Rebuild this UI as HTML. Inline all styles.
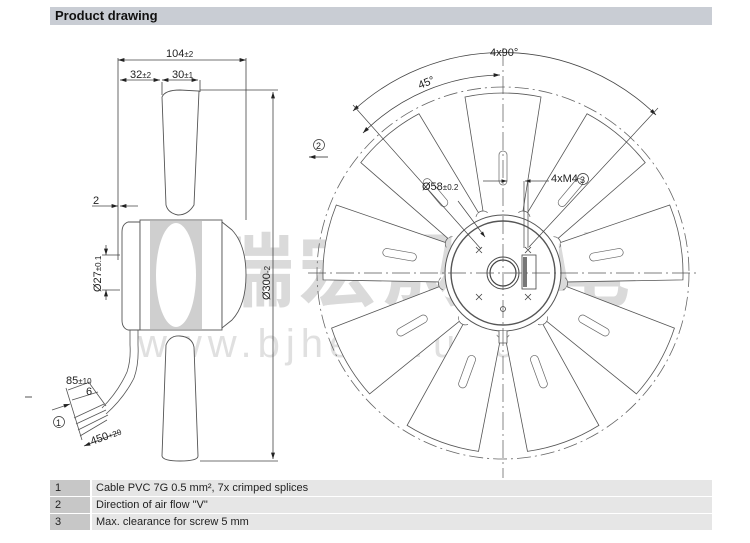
<!DOCTYPE html>
<html><head><meta charset="utf-8"><style>
html,body{margin:0;padding:0;background:#fff;}
body{width:750px;height:543px;overflow:hidden;position:relative;font-family:"Liberation Sans",Arial,sans-serif;}
.hdr{position:absolute;left:50px;top:7px;width:662px;height:18px;background:#c9cdd4;font-weight:bold;font-size:13px;line-height:18px;padding-left:5px;box-sizing:border-box;color:#111;}
.row{position:absolute;left:50px;width:662px;height:16px;font-size:11px;line-height:16px;color:#222;}
.row .a{position:absolute;left:0;top:0;width:40px;height:16px;background:#c7c7c7;padding-left:5px;box-sizing:border-box;}
.row .b{position:absolute;left:42px;top:0;right:0;height:16px;background:#e6e6e6;padding-left:4px;}
svg{position:absolute;left:0;top:0;}
</style></head><body>
<div class="hdr">Product drawing</div>
<svg width="750" height="543" viewBox="0 0 750 543" font-family="Liberation Sans, Arial, sans-serif">
<defs>
<marker id="ar" markerWidth="8" markerHeight="6" refX="8" refY="3" orient="auto-start-reverse"><path d="M0,0.5 L8,3 L0,5.5z" fill="#222"/></marker>
<g id="blade"><path d="M-20,-62 L-38,-176 Q0,-184 38,-176 L20,-62" fill="#fff" stroke="#555" stroke-width="0.8"/><path d="M-4,-118 L-4,-92 A4,4 0 0 0 4,-92 L4,-118 A4,4 0 0 0 -4,-118z" fill="none" stroke="#666" stroke-width="0.7"/><path d="M-20,-62 A7,7 0 0 0 -27,-56 M20,-62 A7,7 0 0 1 27,-56" fill="none" stroke="#666" stroke-width="0.7"/></g>
</defs>
<!-- watermark -->
<text x="130" y="300" font-size="80" fill="#dadada" font-family="Noto Sans CJK SC, sans-serif" font-weight="bold" letter-spacing="4">恒瑞宏晟机电</text>
<text x="138" y="357" font-size="40" fill="#e0e0e0" letter-spacing="6">www.bjhengrui.cn</text>

<!-- FRONT VIEW -->
<g transform="translate(503,273)">
<circle r="186" fill="none" stroke="#666" stroke-width="0.8" stroke-dasharray="14,4,2,4"/>
<g><use href="#blade" transform="rotate(0)"/><use href="#blade" transform="rotate(40)"/><use href="#blade" transform="rotate(80)"/><use href="#blade" transform="rotate(120)"/><use href="#blade" transform="rotate(160)"/><use href="#blade" transform="rotate(200)"/><use href="#blade" transform="rotate(240)"/><use href="#blade" transform="rotate(280)"/><use href="#blade" transform="rotate(320)"/></g>
<circle r="58" fill="#fff" stroke="#555" stroke-width="1"/>
<circle r="52" fill="none" stroke="#555" stroke-width="1.4"/>
<circle r="16" fill="none" stroke="#444" stroke-width="1"/>
<circle r="13" fill="none" stroke="#444" stroke-width="1.2"/>
<rect x="19" y="-18" width="14" height="34" fill="#fff" stroke="#444" stroke-width="0.8"/>
<rect x="20" y="-16" width="4" height="30" fill="#777"/>
<g stroke="#444" stroke-width="0.8"><path d="M-27,-26 l6,6 m0,-6 l-6,6 M22,-26 l6,6 m0,-6 l-6,6 M-27,21 l6,6 m0,-6 l-6,6 M22,21 l6,6 m0,-6 l-6,6"/></g>
<circle cx="0" cy="36" r="2.5" fill="none" stroke="#444" stroke-width="0.8"/>
<path d="M-4,58 L-4,70 L4,70 L4,58" fill="#fff" stroke="#555" stroke-width="0.8"/>
<line x1="0" y1="-225" x2="0" y2="205" stroke="#555" stroke-width="0.7" stroke-dasharray="18,4,2,4"/>
<line x1="-195" y1="0" x2="195" y2="0" stroke="#555" stroke-width="0.7" stroke-dasharray="18,4,2,4"/>
<!-- dim arcs -->
<path d="M-150,-162 A220,220 0 0 1 153,-158" fill="none" stroke="#444" stroke-width="0.8" marker-start="url(#ar)" marker-end="url(#ar)"/>
<path d="M-140,-140 A198,198 0 0 1 -3,-198" fill="none" stroke="#444" stroke-width="0.8" marker-start="url(#ar)" marker-end="url(#ar)"/>
<line x1="-150" y1="-168" x2="-22" y2="-24" stroke="#444" stroke-width="0.7"/>
<line x1="155" y1="-165" x2="26" y2="-26" stroke="#444" stroke-width="0.7"/>
<line x1="-45" y1="-72" x2="-18" y2="-36" stroke="#444" stroke-width="0.7" marker-end="url(#ar)"/>
<line x1="-20" y1="-92" x2="4" y2="-92" stroke="#444" stroke-width="0.7" marker-end="url(#ar)"/>
<line x1="46" y1="-92" x2="22" y2="-92" stroke="#444" stroke-width="0.7" marker-end="url(#ar)"/>
<line x1="21" y1="-92" x2="21" y2="-25" stroke="#444" stroke-width="0.7"/>
<line x1="25" y1="-92" x2="25" y2="-25" stroke="#444" stroke-width="0.7"/>
</g>
<g font-size="11" fill="#222">
<text x="490" y="56">4x90°</text>
<text x="418" y="87" transform="rotate(-22 424 83)">45°</text>
<text x="422" y="190">Ø58<tspan font-size="8">±0.2</tspan></text>
<text x="551" y="182">4xM4</text>
<circle cx="583" cy="179" r="5.5" fill="none" stroke="#333" stroke-width="0.7"/><text x="580" y="183" font-size="9">3</text>
<circle cx="319" cy="145" r="5.5" fill="none" stroke="#333" stroke-width="0.7"/><text x="316" y="149" font-size="9">2</text>
<line x1="328" y1="157" x2="309" y2="157" stroke="#222" stroke-width="0.8" marker-end="url(#ar)"/>
</g>

<!-- SIDE VIEW -->
<g stroke="#444" stroke-width="0.8" fill="none">
<line x1="118" y1="58" x2="118" y2="260"/>
<line x1="246" y1="58" x2="246" y2="220"/>
<line x1="118" y1="60" x2="246" y2="60" marker-start="url(#ar)" marker-end="url(#ar)"/>
<line x1="120" y1="80" x2="160" y2="80" marker-start="url(#ar)" marker-end="url(#ar)"/>
<line x1="162" y1="80" x2="198" y2="80" marker-start="url(#ar)" marker-end="url(#ar)"/>
<line x1="162" y1="82" x2="162" y2="95"/><line x1="200" y1="80" x2="200" y2="92"/>
<line x1="200" y1="90" x2="278" y2="90"/><line x1="200" y1="461" x2="278" y2="461"/>
<line x1="273" y1="92" x2="273" y2="459" marker-start="url(#ar)" marker-end="url(#ar)"/>
<line x1="92" y1="206" x2="118" y2="206" marker-end="url(#ar)"/><line x1="138" y1="206" x2="120" y2="206" marker-end="url(#ar)"/>
<line x1="102" y1="255" x2="120" y2="255"/><line x1="102" y1="290" x2="120" y2="290"/>
<line x1="106" y1="245" x2="106" y2="255" marker-end="url(#ar)"/><line x1="106" y1="300" x2="106" y2="290" marker-end="url(#ar)"/>
</g>
<g stroke="#555" stroke-width="0.9" fill="#fff">
<path d="M162,97 Q165,90 180,90 L199,91 L194,205 Q188,215 178,215 Q168,213 166,205z"/>
<path d="M166,345 Q170,335 180,336 Q192,337 194,347 L198,456 Q198,461 180,461 Q163,461 162,456z"/>
<path d="M128,222 L140,222 L140,330 L128,330 Q122,328 122,320 L122,232 Q122,224 128,222z"/>
<rect x="140" y="220" width="82" height="110"/>
<path d="M222,222 L232,230 Q246,245 246,275 Q246,305 232,320 L222,328z"/>
</g>
<rect x="150" y="221" width="52" height="108" fill="#cfcfcf"/>
<ellipse cx="176" cy="275" rx="20" ry="52" fill="#fff"/>
<g stroke="#555" stroke-width="0.8" fill="none">
<path d="M130,330 L130,345 Q131,360 127,372 Q118,392 102,408"/>
<path d="M138,330 L138,345 Q139,364 134,378 Q124,398 106,414"/>
<path d="M74,418 L104,404 M76,424 L106,410 M78,430 L108,415 M80,436 L107,420"/>
<path d="M66,388 L82,440 M90,384 L106,406"/>
<line x1="68" y1="390" x2="90" y2="382"/>
<line x1="72" y1="400" x2="98" y2="392"/>
<line x1="84" y1="446" x2="120" y2="432" marker-start="url(#ar)"/>
<line x1="52" y1="410" x2="70" y2="404" marker-end="url(#ar)"/>
</g>
<g font-size="11" fill="#222">
<text x="166" y="57">104<tspan font-size="8">±2</tspan></text>
<text x="130" y="78">32<tspan font-size="8">±2</tspan></text>
<text x="172" y="78">30<tspan font-size="8">±1</tspan></text>
<text x="93" y="204">2</text>
<text transform="translate(101,292) rotate(-90)">Ø27<tspan font-size="8">±0.1</tspan></text>
<text transform="translate(270,300) rotate(-90)">Ø300<tspan font-size="8">-2</tspan></text>
<text x="66" y="384">85<tspan font-size="8">±10</tspan></text>
<text x="86" y="395">6</text>
<text transform="translate(92,445) rotate(-20)">450<tspan font-size="8">+20</tspan></text>
<circle cx="59" cy="422" r="5.5" fill="none" stroke="#333" stroke-width="0.7"/><text x="56" y="426" font-size="9">1</text>
</g>
<line x1="25" y1="397" x2="32" y2="397" stroke="#555"/>
</svg>
<div class="row" style="top:480px"><div class="a">1</div><div class="b">Cable PVC 7G 0.5 mm², 7x crimped splices</div></div>
<div class="row" style="top:497px"><div class="a">2</div><div class="b">Direction of air flow "V"</div></div>
<div class="row" style="top:514px"><div class="a">3</div><div class="b">Max. clearance for screw 5 mm</div></div>
</body></html>
